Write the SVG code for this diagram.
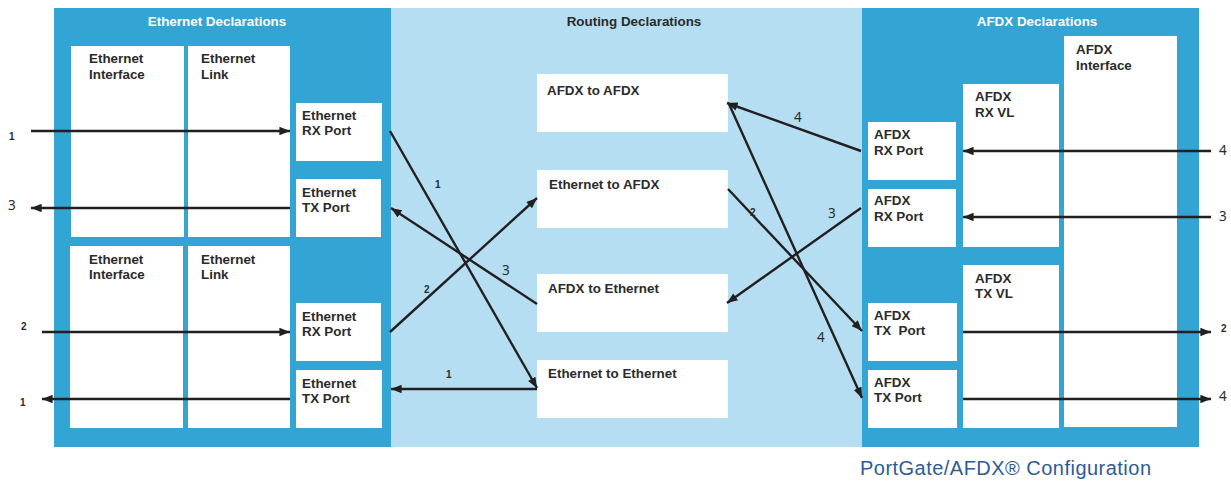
<svg xmlns="http://www.w3.org/2000/svg" width="1231" height="482" viewBox="0 0 1231 482">
<style>
.panel{fill:#33A5D5}
.route{fill:#B5DEF2}
.box{fill:#FFFFFF}
.t{font-family:"Liberation Sans",Arial,sans-serif;font-size:13.4px;font-weight:bold;fill:#2B2B2B}
.title{font-family:"Liberation Sans",Arial,sans-serif;font-size:13.4px;font-weight:bold;text-anchor:middle}
.w{fill:#FFFFFF}
.d{fill:#2B2B2B}
.line{stroke:#231F20;stroke-width:2.4;fill:none}
.ls{font-family:"Liberation Sans",Arial,sans-serif;font-size:10px;font-weight:bold;fill:#2B2B2B}
.lb{font-family:"Noto Sans","Liberation Sans",sans-serif;font-size:13.5px;fill:#2B2B2B}
.foot{font-family:"Liberation Sans",Arial,sans-serif;font-size:20px;fill:#2E5C96}
</style>
<defs>
<marker id="ah" viewBox="0 0 10 8" refX="10" refY="4" markerWidth="11" markerHeight="8.5" markerUnits="userSpaceOnUse" orient="auto">
<path d="M0,0 L10,4 L0,8 z" fill="#231F20"/>
</marker>
</defs>

<g id="routing-panel">
<rect class="route" x="391" y="8" width="471" height="439"/>
<text class="title d" x="634" y="26">Routing Declarations</text>
</g>
<g id="ethernet-panel">
<rect class="panel" x="54" y="8" width="337" height="439"/>
<text class="title w" x="217" y="26">Ethernet Declarations</text>
</g>
<g id="afdx-panel">
<rect class="panel" x="862" y="8" width="337" height="439"/>
<text class="title w" x="1037" y="26">AFDX Declarations</text>
</g>

<g id="eth-interface-1"><rect class="box" x="71" y="46" width="113" height="191"/><text class="t" x="89" y="63">Ethernet<tspan x="89" dy="16">Interface</tspan></text></g>
<g id="eth-link-1"><rect class="box" x="188" y="46" width="102" height="191"/><text class="t" x="201" y="63">Ethernet<tspan x="201" dy="16">Link</tspan></text></g>
<g id="eth-rx-port-1"><rect class="box" x="296" y="103" width="86" height="58"/><text class="t" x="302" y="120">Ethernet<tspan x="302" dy="15">RX Port</tspan></text></g>
<g id="eth-tx-port-1"><rect class="box" x="296" y="179" width="85" height="58"/><text class="t" x="302" y="197">Ethernet<tspan x="302" dy="15">TX Port</tspan></text></g>
<g id="eth-interface-2"><rect class="box" x="70" y="246" width="113" height="182"/><text class="t" x="89" y="264">Ethernet<tspan x="89" dy="15">Interface</tspan></text></g>
<g id="eth-link-2"><rect class="box" x="188" y="246" width="102" height="182"/><text class="t" x="201" y="264">Ethernet<tspan x="201" dy="15">Link</tspan></text></g>
<g id="eth-rx-port-2"><rect class="box" x="296" y="303" width="85" height="58"/><text class="t" x="302" y="321">Ethernet<tspan x="302" dy="15">RX Port</tspan></text></g>
<g id="eth-tx-port-2"><rect class="box" x="296" y="370" width="86" height="58"/><text class="t" x="302" y="388">Ethernet<tspan x="302" dy="15">TX Port</tspan></text></g>

<g id="afdx-to-afdx"><rect class="box" x="537" y="74" width="191" height="58"/><text class="t" x="547" y="95">AFDX to AFDX</text></g>
<g id="ethernet-to-afdx"><rect class="box" x="537" y="170" width="191" height="58"/><text class="t" x="549" y="189">Ethernet to AFDX</text></g>
<g id="afdx-to-ethernet"><rect class="box" x="537" y="274" width="191" height="58"/><text class="t" x="548" y="293">AFDX to Ethernet</text></g>
<g id="ethernet-to-ethernet"><rect class="box" x="537" y="360" width="191" height="58"/><text class="t" x="548" y="378">Ethernet to Ethernet</text></g>

<g id="afdx-interface"><rect class="box" x="1064" y="36" width="113" height="391"/><text class="t" x="1076" y="54">AFDX<tspan x="1076" dy="16">Interface</tspan></text></g>
<g id="afdx-rx-vl"><rect class="box" x="963" y="84" width="96" height="163"/><text class="t" x="975" y="101">AFDX<tspan x="975" dy="16">RX VL</tspan></text></g>
<g id="afdx-rx-port-1"><rect class="box" x="868" y="122" width="88" height="58"/><text class="t" x="874" y="139">AFDX<tspan x="874" dy="16">RX Port</tspan></text></g>
<g id="afdx-rx-port-2"><rect class="box" x="868" y="189" width="88" height="58"/><text class="t" x="874" y="205">AFDX<tspan x="874" dy="16">RX Port</tspan></text></g>
<g id="afdx-tx-vl"><rect class="box" x="963" y="265" width="96" height="163"/><text class="t" x="975" y="283">AFDX<tspan x="975" dy="15">TX VL</tspan></text></g>
<g id="afdx-tx-port-1"><rect class="box" x="868" y="303" width="89" height="58"/><text class="t" x="874" y="320" xml:space="preserve">AFDX<tspan x="874" dy="15">TX  Port</tspan></text></g>
<g id="afdx-tx-port-2"><rect class="box" x="868" y="370" width="89" height="58"/><text class="t" x="874" y="387">AFDX<tspan x="874" dy="15">TX Port</tspan></text></g>

<g id="connectors">
<line class="line" x1="31" y1="131" x2="290" y2="131" marker-end="url(#ah)"/>
<line class="line" x1="290" y1="208" x2="31" y2="208" marker-end="url(#ah)"/>
<line class="line" x1="42" y1="332" x2="290" y2="332" marker-end="url(#ah)"/>
<line class="line" x1="290" y1="399" x2="42" y2="399" marker-end="url(#ah)"/>

<line class="line" x1="390" y1="131" x2="537" y2="388" marker-end="url(#ah)"/>
<line class="line" x1="537" y1="304" x2="391" y2="208" marker-end="url(#ah)"/>
<line class="line" x1="390" y1="332" x2="537" y2="198" marker-end="url(#ah)"/>
<line class="line" x1="537" y1="389" x2="391" y2="389" marker-end="url(#ah)"/>

<line class="line" x1="861" y1="151" x2="727" y2="103" marker-end="url(#ah)"/>
<line class="line" x1="861" y1="208" x2="727" y2="303" marker-end="url(#ah)"/>
<line class="line" x1="728" y1="189" x2="862" y2="331" marker-end="url(#ah)"/>
<line class="line" x1="729" y1="104" x2="862" y2="398" marker-end="url(#ah)"/>

<line class="line" x1="1211" y1="151" x2="963" y2="151" marker-end="url(#ah)"/>
<line class="line" x1="1211" y1="217" x2="963" y2="217" marker-end="url(#ah)"/>
<line class="line" x1="963" y1="332" x2="1211" y2="332" marker-end="url(#ah)"/>
<line class="line" x1="963" y1="399" x2="1211" y2="399" marker-end="url(#ah)"/>

<text class="ls" x="9" y="140">1</text>
<text class="lb" x="8" y="210">3</text>
<text class="ls" x="21" y="330">2</text>
<text class="ls" x="20" y="406">1</text>
<text class="ls" x="435" y="188">1</text>
<text class="lb" x="502" y="275">3</text>
<text class="ls" x="424" y="293">2</text>
<text class="ls" x="446" y="378">1</text>
<text class="lb" x="794" y="122">4</text>
<text class="lb" x="828" y="218">3</text>
<text class="ls" x="750" y="216">2</text>
<text class="lb" x="817" y="342">4</text>
<text class="lb" x="1219" y="155">4</text>
<text class="lb" x="1219" y="221">3</text>
<text class="ls" x="1221" y="332">2</text>
<text class="lb" x="1219" y="401">4</text>
</g>

<text class="foot" x="860" y="475" textLength="291">PortGate/AFDX® Configuration</text>
</svg>
